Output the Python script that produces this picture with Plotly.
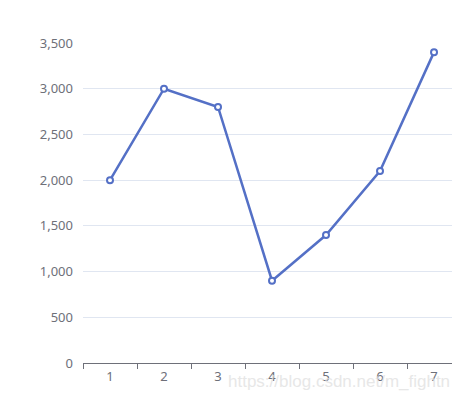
import plotly.graph_objects as go

categories = ["1", "2", "3", "4", "5", "6", "7"]
values = [2000, 3000, 2800, 900, 1400, 2100, 3400]
y_ticks = [0, 500, 1000, 1500, 2000, 2500, 3000, 3500]
y_tick_labels = ["0", "500", "1,000", "1,500", "2,000", "2,500", "3,000", "3,500"]

fig = go.Figure()
fig.add_trace(go.Scatter(
    x=categories, y=values, mode="lines+markers",
    line=dict(color="#5470C6", width=2.5),
    marker=dict(symbol="circle", size=6, color="white",
                line=dict(color="#5470C6", width=2)),
    cliponaxis=False,
))

fig.update_layout(
    width=452, height=400,
    margin=dict(l=83, r=0, t=43, b=37),
    paper_bgcolor="white", plot_bgcolor="white",
    showlegend=False,
    font=dict(family="Noto Sans", size=13, color="#6E7079"),
    xaxis=dict(
        type="category", range=[-0.5, 6.333],
        showline=True, linecolor="#6E7079", linewidth=1,
        ticks="outside", tickson="boundaries", ticklen=5, tickcolor="#6E7079",
        showgrid=False, zeroline=False,
        ticklabelstandoff=1,
        tickfont=dict(size=13, color="#6E7079"),
    ),
    yaxis=dict(
        range=[0, 3500], tickvals=y_ticks, ticktext=y_tick_labels,
        showgrid=True, gridcolor="#E0E6F1", gridwidth=1,
        zeroline=False, showline=False, ticks="",
        ticklabelstandoff=9,
        tickfont=dict(size=13, color="#6E7079"),
    ),
    annotations=[dict(
        text="https://blog.csdn.net/m_fightn", xref="paper", yref="paper",
        x=1.0, y=-0.022, xanchor="right", yanchor="top", showarrow=False,
        font=dict(family="Liberation Sans", size=17, color="rgba(225,225,225,0.8)"),
    )],
)

fig.write_html(
    "out.html",
    config={"displayModeBar": False},
    post_script="document.body.style.margin='0';document.body.style.padding='0';",
)
